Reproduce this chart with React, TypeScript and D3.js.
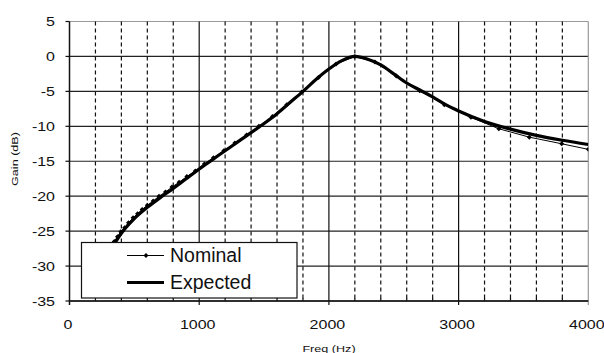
import React from "react";
import * as d3 from "d3";

const expFreq = [250, 300, 350, 400, 500, 600, 700, 800, 900, 1000, 1100, 1200, 1300, 1400, 1500, 1600, 1700, 1800, 1900, 2000, 2100, 2200, 2300, 2400, 2500, 2600, 2700, 2800, 2900, 3000, 3200, 3400, 3600, 3800, 4000];
const expGain = [-30.0, -28.2, -26.7, -25.3, -23.2, -21.6, -20.2, -18.9, -17.5, -16.1, -14.8, -13.5, -12.2, -10.9, -9.6, -8.2, -6.6, -5.0, -3.3, -1.8, -0.6, 0.0, -0.4, -1.2, -2.5, -3.8, -4.8, -5.8, -6.9, -7.8, -9.3, -10.4, -11.3, -12.0, -12.6];

const nomFreq = [260, 280, 300, 320, 345, 370, 395, 425, 455, 490, 525, 560, 600, 645, 690, 740, 790, 845, 905, 970, 1040, 1110, 1190, 1275, 1365, 1460, 1565, 1675, 1790, 1920, 2055, 2200, 2355, 2520, 2700, 2890, 3095, 3310, 3545, 3795, 4000];
const nomGain = [-29.3, -28.6, -27.9, -27.3, -26.5, -25.8, -25.1, -24.5, -23.8, -23.1, -22.5, -21.9, -21.3, -20.7, -20.0, -19.4, -18.7, -18.0, -17.2, -16.4, -15.4, -14.5, -13.5, -12.4, -11.25, -10.0, -8.6, -6.9, -5.1, -3.0, -1.1, 0.0, -0.8, -2.8, -4.9, -6.9, -8.7, -10.35, -11.55, -12.5, -13.3];

const xTicks = [0, 1000, 2000, 3000, 4000];
const xMinor = [200, 400, 600, 800, 1200, 1400, 1600, 1800, 2200, 2400, 2600, 2800, 3200, 3400, 3600, 3800];
const yTicks = [5, 0, -5, -10, -15, -20, -25, -30, -35];
const legendLabels = ["Nominal", "Expected"];

export default function App() {
  const x = d3.scaleLinear().domain([0, 4000]).range([69.5, 588.3]);
  const y = d3.scaleLinear().domain([-35, 5]).range([301, 21.5]);
  const expLine = d3
    .line<number>()
    .x((_, i) => x(expFreq[i]))
    .y((d) => y(d))
    .curve(d3.curveMonotoneX);
  const nomLine = d3
    .line<number>()
    .x((_, i) => x(nomFreq[i]))
    .y((d) => y(d));
  const font = "'Liberation Sans', Arial, sans-serif";
  const diamond = (cx: number, cy: number, s: number) =>
    `M${cx},${cy - s}L${cx + s},${cy}L${cx},${cy + s}L${cx - s},${cy}Z`;

  return (
    <svg
      width={604}
      height={353}
      style={{ position: "absolute", left: 0, top: 0, background: "#fff" }}
      fontFamily={font}
    >
      <defs>
        <clipPath id="plotclip">
          <rect x={69.5} y={21.5} width={588.3 - 69.5} height={301 - 21.5} />
        </clipPath>
      </defs>
      {yTicks.map((t) => (
        <line
          key={"hg" + t}
          x1={x(0)}
          x2={x(4000)}
          y1={y(t)}
          y2={y(t)}
          stroke={t === 5 ? "#999" : "#222"}
          strokeWidth={1.2}
        />
      ))}
      {xMinor.map((t) => (
        <line
          key={"vm" + t}
          x1={x(t)}
          x2={x(t)}
          y1={y(5)}
          y2={y(-35)}
          stroke="#111"
          strokeWidth={1.2}
          strokeDasharray="4,3"
        />
      ))}
      {xMinor.map((t) => (
        <line key={"mt" + t} x1={x(t)} x2={x(t)} y1={y(-35)} y2={y(-35) - 3} stroke="#111" strokeWidth={1.2} />
      ))}
      {xTicks.map((t) => (
        <line
          key={"vg" + t}
          x1={x(t)}
          x2={x(t)}
          y1={y(5)}
          y2={y(-35) + 4}
          stroke={t === 4000 ? "#999" : "#111"}
          strokeWidth={t === 0 ? 1.5 : 1.2}
        />
      ))}
      {yTicks.map((t) => (
        <line key={"yt" + t} x1={x(0) - 4} x2={x(0)} y1={y(t)} y2={y(t)} stroke="#111" strokeWidth={1.2} />
      ))}
      <line x1={x(0)} x2={x(4000)} y1={y(-35)} y2={y(-35)} stroke="#111" strokeWidth={1.5} />
      {yTicks.map((t) => (
        <text
          key={"yl" + t}
          transform={`translate(55,${y(t) + 4.5}) scale(1.28,1)`}
          textAnchor="end"
          fontSize={12.5}
          fill="#111"
        >
          {t}
        </text>
      ))}
      {xTicks.map((t) => (
        <text
          key={"xl" + t}
          transform={`translate(${x(t) - 1.5},${329}) scale(1.28,1)`}
          textAnchor="middle"
          fontSize={12.5}
          fill="#111"
        >
          {t}
        </text>
      ))}
      <text transform="translate(329,351.5) scale(1.4,1)" textAnchor="middle" fontSize={9} fill="#111">
        Freq (Hz)
      </text>
      <text transform="translate(18,159) rotate(-90) scale(1.4,1)" textAnchor="middle" fontSize={9} fill="#111">
        Gain (dB)
      </text>
      <g clipPath="url(#plotclip)">
        <path d={expLine(expGain) || ""} fill="none" stroke="#000" strokeWidth={3.2} />
        <path d={nomLine(nomGain) || ""} fill="none" stroke="#000" strokeWidth={1} />
        {nomGain.map((g, i) => (
          <path key={"m" + i} d={diamond(x(nomFreq[i]), y(g), 2.5)} fill="#000" />
        ))}
      </g>
      <rect x={81.5} y={242.5} width={215.5} height={55.5} fill="#fff" stroke="#111" strokeWidth={1.2} />
      <line x1={127} x2={164} y1={255.5} y2={255.5} stroke="#000" strokeWidth={1} />
      <path d={diamond(146, 255.5, 2.5)} fill="#000" />
      <line x1={127} x2={164} y1={282.5} y2={282.5} stroke="#000" strokeWidth={3.2} />
      <text x={170} y={262} fontSize={19.5} fill="#111">
        {legendLabels[0]}
      </text>
      <text x={170} y={289} fontSize={19.5} fill="#111">
        {legendLabels[1]}
      </text>
    </svg>
  );
}
